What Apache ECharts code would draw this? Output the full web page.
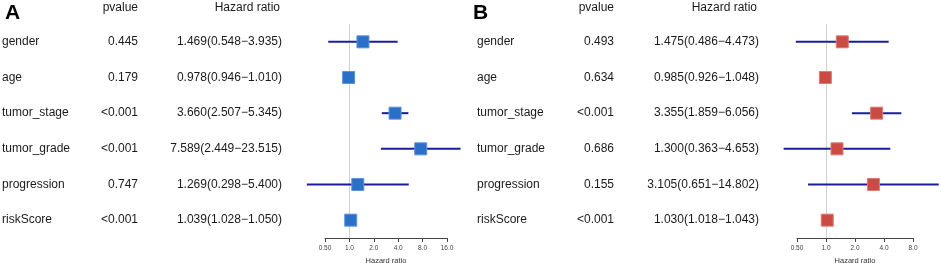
<!DOCTYPE html>
<html>
<head>
<meta charset="utf-8">
<script src="https://cdn.jsdelivr.net/npm/echarts@6/dist/echarts.min.js"></script>
<style>
  html, body { margin: 0; padding: 0; background: #fff; }
  #main { width: 941px; height: 263px; }
</style>
</head>
<body>
<div id="main"></div>
<script>
// 变量
var names = ['gender', 'age', 'tumor_stage', 'tumor_grade', 'progression', 'riskScore'];

// A 组
var pvalA = ['0.445', '0.179', '<0.001', '<0.001', '0.747', '<0.001'];
var hrA = [1.469, 0.978, 3.660, 7.589, 1.269, 1.039];
var lowA = [0.548, 0.946, 2.507, 2.449, 0.298, 1.028];
var highA = [3.935, 1.010, 5.345, 23.515, 5.400, 1.050];

// B 组
var pvalB = ['0.493', '0.634', '<0.001', '0.686', '0.155', '<0.001'];
var hrB = [1.475, 0.985, 3.355, 1.300, 3.105, 1.030];
var lowB = [0.486, 0.926, 1.859, 0.363, 0.651, 1.018];
var highB = [4.473, 1.048, 6.056, 4.653, 14.802, 1.043];

var ticksA = ['0.50', '1.0', '2.0', '4.0', '8.0', '16.0'];
var ticksB = ['0.50', '1.0', '2.0', '4.0', '8.0'];

var FONT = '"Liberation Sans", Arial, sans-serif';

function fmt3(v) { return v.toFixed(3); }

function hrText(hr, lo, hi, i) {
    return fmt3(hr[i]) + '(' + fmt3(lo[i]) + '\u2212' + fmt3(hi[i]) + ')';
}

function makeX(idx, gridIndex, max, ticks) {
    return {
        type: 'log',
        logBase: 2,
        gridIndex: gridIndex,
        min: 0.5,
        max: max,
        name: 'Hazard ratio',
        nameLocation: 'middle',
        nameGap: 14,
        nameTextStyle: { fontSize: 7.5, color: '#333', fontFamily: FONT },
        axisLine: { show: true, lineStyle: { color: '#444', width: 1 } },
        axisTick: { show: true, length: 4, lineStyle: { color: '#444' } },
        axisLabel: {
            fontSize: 6.5, color: '#444', margin: 7, fontFamily: FONT,
            formatter: function (v) {
                var k = Math.round(Math.log2(v) + 1);
                return ticks[k] !== undefined ? ticks[k] : '';
            }
        },
        splitLine: { show: false },
        minorTick: { show: false }
    };
}

function makeY(gridIndex, pv, hr, lo, hi, widths) {
    return {
        type: 'category',
        gridIndex: gridIndex,
        inverse: true,
        data: names,
        axisLine: { show: false },
        axisTick: { show: false },
        splitLine: { show: false },
        axisLabel: {
            margin: widths.margin,
            fontFamily: FONT,
            formatter: function (v, i) {
                return '{a|' + v + '}{b|' + pv[i] + '}{c|' + hrText(hr, lo, hi, i) + '}';
            },
            rich: {
                a: { width: widths.a, align: 'left', fontSize: 12, color: '#1a1a1a', fontFamily: FONT },
                b: { width: widths.b, align: 'right', fontSize: 12, color: '#1a1a1a', fontFamily: FONT },
                c: { width: widths.c, align: 'right', fontSize: 12, color: '#1a1a1a', fontFamily: FONT }
            }
        }
    };
}

function ciSeries(idx, lo, hi) {
    var data = names.map(function (n, i) { return [lo[i], hi[i], i]; });
    return {
        type: 'custom',
        xAxisIndex: idx,
        yAxisIndex: idx,
        clip: false,
        z: 2,
        data: data,
        encode: { x: [0, 1], y: 2 },
        renderItem: function (params, api) {
            var p1 = api.coord([api.value(0), api.value(2)]);
            var p2 = api.coord([api.value(1), api.value(2)]);
            return {
                type: 'line',
                shape: { x1: p1[0], y1: p1[1], x2: p2[0], y2: p2[1] },
                style: { stroke: '#1d1d9b', lineWidth: 2 }
            };
        }
    };
}

function boxSeries(idx, hr, color, border) {
    return {
        type: 'scatter',
        xAxisIndex: idx,
        yAxisIndex: idx,
        symbol: 'rect',
        symbolSize: 12,
        z: 3,
        itemStyle: { color: color, borderColor: border, borderWidth: 1, opacity: 1 },
        data: names.map(function (n, i) { return [hr[i], i]; }),
        markLine: {
            silent: true,
            symbol: 'none',
            label: { show: false },
            lineStyle: { color: '#d0d0d0', width: 1, type: 'solid' },
            data: [{ xAxis: 1 }],
            z: 1
        }
    };
}

var chart = echarts.init(document.getElementById('main'));

var option = {
    backgroundColor: '#fff',
    animation: false,
    textStyle: { fontFamily: FONT },
    grid: [
        { left: 325, width: 122, top: 24, height: 214, outerBoundsMode: 'none', containLabel: false },
        { left: 797, width: 116, top: 24, height: 214, outerBoundsMode: 'none', containLabel: false }
    ],
    xAxis: [
        makeX(0, 0, 16, ticksA),
        makeX(1, 1, 8, ticksB)
    ],
    yAxis: [
        makeY(0, pvalA, hrA, lowA, highA, { a: 96, b: 40, c: 144, margin: 43 }),
        makeY(1, pvalB, hrB, lowB, highB, { a: 96, b: 41, c: 145, margin: 38 })
    ],
    graphic: [
        { type: 'text', left: 5, top: 3, style: { text: 'A', font: 'bold 21px ' + FONT, fill: '#000' } },
        { type: 'text', left: 473, top: 3, style: { text: 'B', font: 'bold 21px ' + FONT, fill: '#000' } },
        { type: 'text', right: 941 - 138, top: 2, style: { text: 'pvalue', font: '12px ' + FONT, fill: '#1a1a1a' } },
        { type: 'text', right: 941 - 280, top: 2, style: { text: 'Hazard ratio', font: '12px ' + FONT, fill: '#1a1a1a' } },
        { type: 'text', right: 941 - 614, top: 2, style: { text: 'pvalue', font: '12px ' + FONT, fill: '#1a1a1a' } },
        { type: 'text', right: 941 - 757, top: 2, style: { text: 'Hazard ratio', font: '12px ' + FONT, fill: '#1a1a1a' } }
    ],
    series: [
        ciSeries(0, lowA, highA),
        boxSeries(0, hrA, '#2b6fc8', '#5b93dc'),
        ciSeries(1, lowB, highB),
        boxSeries(1, hrB, '#cc4a44', '#e07a72')
    ]
};

chart.setOption(option);
</script>
</body>
</html>
